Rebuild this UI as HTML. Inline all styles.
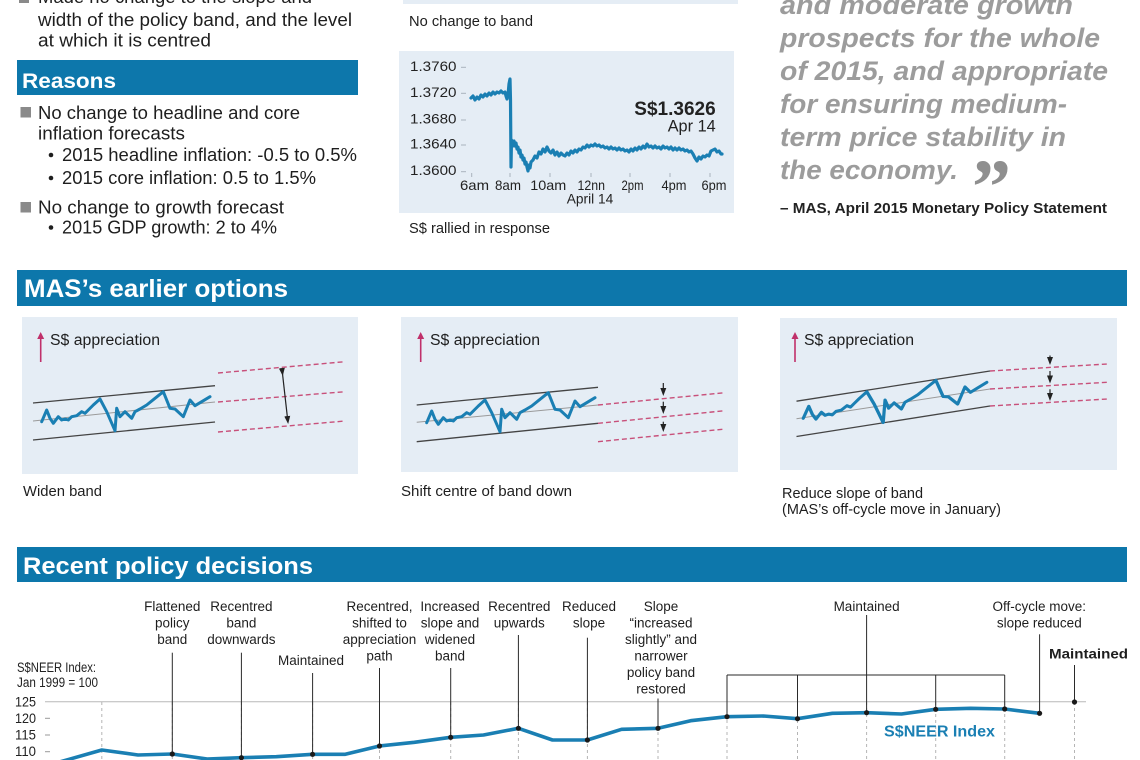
<!DOCTYPE html>
<html>
<head>
<meta charset="utf-8">
<style>
  html,body{margin:0;padding:0;background:#fff;}
  svg{display:block;}
  text{font-family:"Liberation Sans",Arial,sans-serif;}
  .t18{font-size:18px;fill:#1e1e1e;}
  .hd{font-weight:bold;fill:#fff;}
  .q{font-size:27px;font-weight:bold;font-style:italic;fill:#9c9c9c;}
  .s14{font-size:14.5px;fill:#1e1e1e;}
  .ax{font-size:13.5px;fill:#222;}
  .lb{font-size:13.5px;fill:#1e1e1e;text-anchor:middle;}
</style>
</head>
<body>
<svg width="1140" height="760" viewBox="0 0 1140 760" xmlns="http://www.w3.org/2000/svg">
  <rect x="0" y="0" width="1140" height="760" fill="#fff"/>

  <!-- ========== TOP LEFT ========== -->
  <rect x="19" y="-7" width="10" height="10" fill="#8a8a8a"/>
  <text class="t18" x="38" y="3" textLength="274" lengthAdjust="spacingAndGlyphs">Made no change to the slope and</text>
  <text class="t18" x="38" y="26" textLength="314" lengthAdjust="spacingAndGlyphs">width of the policy band, and the level</text>
  <text class="t18" x="38" y="46.5" textLength="173" lengthAdjust="spacingAndGlyphs">at which it is centred</text>

  <rect x="17" y="60" width="341" height="35" fill="#0d77ab"/>
  <text class="hd" x="22" y="88" font-size="21.5" textLength="94" lengthAdjust="spacingAndGlyphs">Reasons</text>

  <rect x="20.5" y="107" width="10.5" height="10.5" fill="#8a8a8a"/>
  <text class="t18" x="38" y="119" textLength="262" lengthAdjust="spacingAndGlyphs">No change to headline and core</text>
  <text class="t18" x="38" y="139.5" textLength="147" lengthAdjust="spacingAndGlyphs">inflation forecasts</text>
  <circle cx="51" cy="155" r="2.3" fill="#1e1e1e"/>
  <text class="t18" x="62" y="161" textLength="295" lengthAdjust="spacingAndGlyphs">2015 headline inflation: -0.5 to 0.5%</text>
  <circle cx="51" cy="178" r="2.3" fill="#1e1e1e"/>
  <text class="t18" x="62" y="184" textLength="254" lengthAdjust="spacingAndGlyphs">2015 core inflation: 0.5 to 1.5%</text>
  <rect x="20.5" y="202" width="10.5" height="10.5" fill="#8a8a8a"/>
  <text class="t18" x="38" y="213.5" textLength="246" lengthAdjust="spacingAndGlyphs">No change to growth forecast</text>
  <circle cx="51" cy="227.5" r="2.3" fill="#1e1e1e"/>
  <text class="t18" x="62" y="233.5" textLength="215" lengthAdjust="spacingAndGlyphs">2015 GDP growth: 2 to 4%</text>

  <!-- ========== TOP MIDDLE ========== -->
  <rect x="403" y="0" width="335" height="4" fill="#e5edf5"/>
  <text class="s14" x="409" y="26" font-size="15" textLength="124" lengthAdjust="spacingAndGlyphs">No change to band</text>

  <rect x="399" y="51" width="335" height="162" fill="#e5edf5"/>
  <g font-size="14" fill="#222">
    <text x="410" y="71" textLength="46.5" lengthAdjust="spacingAndGlyphs">1.3760</text>
    <text x="410" y="97" textLength="46.5" lengthAdjust="spacingAndGlyphs">1.3720</text>
    <text x="410" y="123.5" textLength="46.5" lengthAdjust="spacingAndGlyphs">1.3680</text>
    <text x="410" y="148.5" textLength="46.5" lengthAdjust="spacingAndGlyphs">1.3640</text>
    <text x="410" y="175" textLength="46.5" lengthAdjust="spacingAndGlyphs">1.3600</text>
  </g>
  <g stroke="#a9b3bd" stroke-width="1">
    <line x1="461" y1="67.3" x2="466" y2="67.3"/>
    <line x1="461" y1="93.3" x2="466" y2="93.3"/>
    <line x1="461" y1="120" x2="466" y2="120"/>
    <line x1="461" y1="145" x2="466" y2="145"/>
    <line x1="461" y1="171.7" x2="466" y2="171.7"/>
    <line x1="471.7" y1="173" x2="471.7" y2="177"/>
    <line x1="510" y1="173" x2="510" y2="177"/>
    <line x1="550" y1="173" x2="550" y2="177"/>
    <line x1="591" y1="173" x2="591" y2="177"/>
    <line x1="630" y1="173" x2="630" y2="177"/>
    <line x1="670" y1="173" x2="670" y2="177"/>
    <line x1="710" y1="173" x2="710" y2="177"/>
  </g>
  <g font-size="14" fill="#222" text-anchor="middle">
    <text x="474.5" y="190" textLength="29" lengthAdjust="spacingAndGlyphs">6am</text>
    <text x="508" y="190" textLength="26" lengthAdjust="spacingAndGlyphs">8am</text>
    <text x="548.3" y="190" textLength="36" lengthAdjust="spacingAndGlyphs">10am</text>
    <text x="591.3" y="190" textLength="27.5" lengthAdjust="spacingAndGlyphs">12nn</text>
    <text x="632.5" y="190" textLength="22" lengthAdjust="spacingAndGlyphs">2pm</text>
    <text x="674" y="190" textLength="25" lengthAdjust="spacingAndGlyphs">4pm</text>
    <text x="714" y="190" textLength="25" lengthAdjust="spacingAndGlyphs">6pm</text>
    <text x="590" y="203.5" textLength="46.5" lengthAdjust="spacingAndGlyphs">April 14</text>
  </g>
  <path fill="none" stroke="#1a7fb3" stroke-width="3.2" stroke-linejoin="round" stroke-linecap="round"
    d="M471,98 L473,96 475,100 477,97 479,99 481,95 483,97 485,94 487,96 489,93 491,95 493,92 495,94 497,92 499,93 501,91 503,93 505,92 506,96 507,99 508,95 509,84 510,79 510.5,100 511,167 511.5,140 513,146 514,141 515,146 516,143 517,149 518,147 519,153 520,150 521,157 522,155 523,160 524,158 525,164 526,162 527,167 528,171 529,165 530,168 531,162 533,160 535,156 537,158 539,152 541,154 543,149 545,152 547,147 549,151 551,153 553,150 555,155 557,152 559,156 561,153 563,155 565,156 567,153 569,155 571,151 573,153 575,150 577,152 579,149 581,150 583,147 585,148 587,145 589,147 591,145 593,146 595,144 597,146 599,145 601,147 603,146 605,148 607,147 609,149 611,147 613,149 615,148 617,150 619,148 621,150 623,149 625,151 627,150 629,152 631,149 633,151 635,148 637,150 639,147 641,149 643,146 645,148 647,144 649,147 651,146 653,148 655,146 657,148 659,147 661,149 663,146 665,148 667,147 669,149 671,147 673,150 675,148 677,150 679,148 681,150 683,149 685,151 687,150 689,152 691,151 693,154 695,158 697,161 699,157 701,159 703,156 705,157 707,155 709,156 711,151 713,150 715,149 717,152 719,151 721,154 722,154"/>
  <text x="634.3" y="115" font-size="19" font-weight="bold" fill="#222" textLength="81.4" lengthAdjust="spacingAndGlyphs">S$1.3626</text>
  <text x="715.7" y="131.7" font-size="17" fill="#222" text-anchor="end" textLength="48" lengthAdjust="spacingAndGlyphs">Apr 14</text>

  <text class="s14" x="409" y="233" font-size="15" textLength="141" lengthAdjust="spacingAndGlyphs">S$ rallied in response</text>

  <!-- ========== TOP RIGHT QUOTE ========== -->
  <text class="q" x="780" y="14" textLength="293" lengthAdjust="spacingAndGlyphs">and moderate growth</text>
  <text class="q" x="780" y="47" textLength="320" lengthAdjust="spacingAndGlyphs">prospects for the whole</text>
  <text class="q" x="780" y="80" textLength="328" lengthAdjust="spacingAndGlyphs">of 2015, and appropriate</text>
  <text class="q" x="780" y="113" textLength="287" lengthAdjust="spacingAndGlyphs">for ensuring medium-</text>
  <text class="q" x="780" y="146" textLength="286" lengthAdjust="spacingAndGlyphs">term price stability in</text>
  <text class="q" x="780" y="179" textLength="178" lengthAdjust="spacingAndGlyphs">the economy.</text>
  <text x="972" y="213" font-family="Liberation Serif, serif" font-size="78" font-weight="bold" fill="#8f8f8f" style="font-family:'Liberation Serif',serif">”</text>
  <text x="780" y="213" font-size="14.5" font-weight="bold" fill="#222" textLength="327" lengthAdjust="spacingAndGlyphs">– MAS, April 2015 Monetary Policy Statement</text>

  <!-- ========== MAS's earlier options ========== -->
  <rect x="17" y="270" width="1110" height="36" fill="#0d77ab"/>
  <text class="hd" x="24" y="297" font-size="25" textLength="264" lengthAdjust="spacingAndGlyphs">MAS’s earlier options</text>

  <defs>
    <path id="mini" fill="none" stroke="#1a7fb3" stroke-width="3" stroke-linejoin="round" stroke-linecap="round"
      d="M41.7,421.7 L46.7,410 50,418.3 53.3,423.3 58.3,416.7 61.7,420 65,419 68.3,420 71.7,416.7 76.7,415.7 81.7,411.7 85,413.3 88.3,410 93.3,405 100,399 106.7,411.7 115,430.7 116.7,408.3 120,416.7 125,411.7 131.7,418.3 135,411.7 140,409 146.7,405 155,398.3 163.3,391.7 170,408.3 175,409 183.3,416.7 190,400 195,405.7 201.7,401.7 210,396.7"/>
    <marker id="ah" markerWidth="8" markerHeight="8" refX="4" refY="4" orient="auto" markerUnits="userSpaceOnUse">
      <path d="M0,1 L8,4 L0,7 z" fill="#222"/>
    </marker>
  </defs>

  <!-- Panel 1 -->
  <rect x="22" y="317" width="336" height="157" fill="#e5edf5"/>
  <line x1="40.7" y1="362" x2="40.7" y2="338" stroke="#c0306a" stroke-width="1.6"/>
  <path d="M37.2,339 L40.7,332 L44.2,339 z" fill="#c0306a"/>
  <text x="50" y="345" font-size="15.5" fill="#1e1e1e" textLength="110" lengthAdjust="spacingAndGlyphs">S$ appreciation</text>
  <g stroke-width="1.3">
    <line x1="33" y1="403" x2="215" y2="385.7" stroke="#444"/>
    <line x1="33" y1="421" x2="215" y2="402" stroke="#9a9a9a" stroke-width="1"/>
    <line x1="33" y1="440" x2="215" y2="422" stroke="#444"/>
  </g>
  <use href="#mini"/>
  <g stroke="#c8507a" stroke-width="1.4" stroke-dasharray="5,3">
    <line x1="218" y1="373" x2="345" y2="361.7"/>
    <line x1="218" y1="402" x2="345" y2="391.7"/>
    <line x1="218" y1="432" x2="345" y2="421"/>
  </g>
  <line x1="282.3" y1="372" x2="287.7" y2="420" stroke="#222" stroke-width="1.2" marker-start="url(#ah)" marker-end="url(#ah)"/>
  <text class="s14" x="23" y="496" textLength="79" lengthAdjust="spacingAndGlyphs">Widen band</text>

  <!-- Panel 2 -->
  <rect x="401" y="317" width="337" height="155" fill="#e5edf5"/>
  <line x1="420.7" y1="362" x2="420.7" y2="338" stroke="#c0306a" stroke-width="1.6"/>
  <path d="M417.2,339 L420.7,332 L424.2,339 z" fill="#c0306a"/>
  <text x="430" y="345" font-size="15.5" fill="#1e1e1e" textLength="110" lengthAdjust="spacingAndGlyphs">S$ appreciation</text>
  <g stroke-width="1.3">
    <line x1="416.7" y1="405" x2="598" y2="387.3" stroke="#444"/>
    <line x1="416.7" y1="422.3" x2="598" y2="405" stroke="#9a9a9a" stroke-width="1"/>
    <line x1="416.7" y1="441.7" x2="598" y2="423.3" stroke="#444"/>
  </g>
  <use href="#mini" transform="translate(385,1)"/>
  <g stroke="#c8507a" stroke-width="1.4" stroke-dasharray="5,3">
    <line x1="598" y1="405" x2="725" y2="392.7"/>
    <line x1="598" y1="423.3" x2="725" y2="410.7"/>
    <line x1="598" y1="441.7" x2="725" y2="429"/>
  </g>
  <g stroke="#222" stroke-width="1.2">
    <line x1="663.3" y1="383" x2="663.3" y2="392" marker-end="url(#ah)"/>
    <line x1="663.3" y1="401.7" x2="663.3" y2="410" marker-end="url(#ah)"/>
    <line x1="663.3" y1="421.7" x2="663.3" y2="428" marker-end="url(#ah)"/>
  </g>
  <text class="s14" x="401" y="496" textLength="171" lengthAdjust="spacingAndGlyphs">Shift centre of band down</text>

  <!-- Panel 3 -->
  <rect x="780" y="318" width="337" height="152" fill="#e5edf5"/>
  <line x1="795" y1="362" x2="795" y2="338" stroke="#c0306a" stroke-width="1.6"/>
  <path d="M791.5,339 L795,332 L798.5,339 z" fill="#c0306a"/>
  <text x="804" y="345" font-size="15.5" fill="#1e1e1e" textLength="110" lengthAdjust="spacingAndGlyphs">S$ appreciation</text>
  <g stroke-width="1.3">
    <line x1="796.5" y1="401.2" x2="990" y2="371" stroke="#444"/>
    <line x1="796.5" y1="418.8" x2="990" y2="389" stroke="#9a9a9a" stroke-width="1"/>
    <line x1="796.5" y1="436.5" x2="990" y2="406" stroke="#444"/>
  </g>
  <use href="#mini" transform="matrix(1.09,-0.065,0,1,757.85,-0.69)"/>
  <g stroke="#c8507a" stroke-width="1.4" stroke-dasharray="5,3">
    <line x1="990" y1="371" x2="1107" y2="364"/>
    <line x1="990" y1="389" x2="1107" y2="382.3"/>
    <line x1="990" y1="406" x2="1107" y2="399"/>
  </g>
  <g stroke="#222" stroke-width="1.2">
    <line x1="1050" y1="355.5" x2="1050" y2="361" marker-end="url(#ah)"/>
    <line x1="1050" y1="371" x2="1050" y2="379.5" marker-end="url(#ah)"/>
    <line x1="1050" y1="389.3" x2="1050" y2="397" marker-end="url(#ah)"/>
  </g>
  <text class="s14" x="782" y="498" textLength="141" lengthAdjust="spacingAndGlyphs">Reduce slope of band</text>
  <text class="s14" x="782" y="514" textLength="219" lengthAdjust="spacingAndGlyphs">(MAS’s off-cycle move in January)</text>

  <!-- ========== Recent policy decisions ========== -->
  <rect x="17" y="547" width="1110" height="35" fill="#0d77ab"/>
  <text class="hd" x="23" y="574" font-size="24" textLength="290" lengthAdjust="spacingAndGlyphs">Recent policy decisions</text>

  <text class="ax" x="17" y="672" font-size="13" textLength="79" lengthAdjust="spacingAndGlyphs">S$NEER Index:</text>
  <text class="ax" x="17" y="687" font-size="13" textLength="81" lengthAdjust="spacingAndGlyphs">Jan 1999 = 100</text>
  <g font-size="14" fill="#222">
    <text x="15" y="706.5" textLength="21" lengthAdjust="spacingAndGlyphs">125</text>
    <text x="15" y="723" textLength="21" lengthAdjust="spacingAndGlyphs">120</text>
    <text x="15" y="739.5" textLength="21" lengthAdjust="spacingAndGlyphs">115</text>
    <text x="15" y="756" textLength="21" lengthAdjust="spacingAndGlyphs">110</text>
  </g>
  <line x1="45" y1="701.7" x2="1086" y2="701.7" stroke="#b8b8b8" stroke-width="1"/>
  <g stroke="#999" stroke-width="1">
    <line x1="45" y1="718.3" x2="50" y2="718.3"/>
    <line x1="45" y1="735" x2="50" y2="735"/>
    <line x1="45" y1="751.7" x2="50" y2="751.7"/>
  </g>

  <g stroke="#b5b5b5" stroke-width="1" stroke-dasharray="3,3">
    <line x1="101.8" y1="702" x2="101.8" y2="760"/>
    <line x1="172.3" y1="702" x2="172.3" y2="760"/>
    <line x1="241.4" y1="702" x2="241.4" y2="760"/>
    <line x1="312.6" y1="702" x2="312.6" y2="760"/>
    <line x1="379.5" y1="702" x2="379.5" y2="760"/>
    <line x1="450.7" y1="702" x2="450.7" y2="760"/>
    <line x1="518.4" y1="702" x2="518.4" y2="760"/>
    <line x1="587.4" y1="702" x2="587.4" y2="760"/>
    <line x1="658" y1="702" x2="658" y2="760"/>
    <line x1="727" y1="702" x2="727" y2="760"/>
    <line x1="797.5" y1="702" x2="797.5" y2="760"/>
    <line x1="866.6" y1="702" x2="866.6" y2="760"/>
    <line x1="935.7" y1="702" x2="935.7" y2="760"/>
    <line x1="1004.7" y1="702" x2="1004.7" y2="760"/>
    <line x1="1074.5" y1="702" x2="1074.5" y2="760"/>
  </g>

  <g stroke="#2a2a2a" stroke-width="1">
    <line x1="172.3" y1="652.7" x2="172.3" y2="754"/>
    <line x1="241.4" y1="652.7" x2="241.4" y2="757.7"/>
    <line x1="312.6" y1="673" x2="312.6" y2="754.3"/>
    <line x1="379.5" y1="668" x2="379.5" y2="746"/>
    <line x1="450.7" y1="668" x2="450.7" y2="737.3"/>
    <line x1="518.4" y1="635" x2="518.4" y2="728.3"/>
    <line x1="587.4" y1="637.7" x2="587.4" y2="740"/>
    <line x1="658" y1="698.5" x2="658" y2="728.3"/>
    <line x1="727" y1="675" x2="1004.7" y2="675"/>
    <line x1="727" y1="675" x2="727" y2="716.7"/>
    <line x1="797.5" y1="675" x2="797.5" y2="718.7"/>
    <line x1="866.6" y1="615" x2="866.6" y2="712.7"/>
    <line x1="935.7" y1="675" x2="935.7" y2="709.3"/>
    <line x1="1004.7" y1="675" x2="1004.7" y2="709"/>
    <line x1="1039.6" y1="634.3" x2="1039.6" y2="713.3"/>
    <line x1="1074.5" y1="665" x2="1074.5" y2="702"/>
  </g>

  <path fill="none" stroke="#1a7fb3" stroke-width="3.6" stroke-linejoin="round"
    d="M56,763 L69,759.3 101.8,750 138,755 172.3,754 207.2,759 241.4,757.7 276.3,756.7 312.6,754.3 345.3,754.3 379.5,746 414.4,742.3 450.7,737.3 483.5,735 518.4,728.3 552.5,740 587.4,740 621.6,729.3 658,728.3 690.7,720.7 727,716.7 763.4,716 797.5,718.7 832.4,713.3 866.6,712.7 901.5,714 935.7,709.3 970.6,708.3 1004.7,709 1039.6,713.3"/>

  <g fill="#1a1a1a">
    <circle cx="172.3" cy="754" r="2.6"/>
    <circle cx="241.4" cy="757.7" r="2.6"/>
    <circle cx="312.6" cy="754.3" r="2.6"/>
    <circle cx="379.5" cy="746" r="2.6"/>
    <circle cx="450.7" cy="737.3" r="2.6"/>
    <circle cx="518.4" cy="728.3" r="2.6"/>
    <circle cx="587.4" cy="740" r="2.6"/>
    <circle cx="658" cy="728.3" r="2.6"/>
    <circle cx="727" cy="716.7" r="2.6"/>
    <circle cx="797.5" cy="718.7" r="2.6"/>
    <circle cx="866.6" cy="712.7" r="2.6"/>
    <circle cx="935.7" cy="709.3" r="2.6"/>
    <circle cx="1004.7" cy="709" r="2.6"/>
    <circle cx="1039.6" cy="713.3" r="2.6"/>
    <circle cx="1074.5" cy="702" r="2.6"/>
  </g>

  <text x="884" y="736.7" font-size="15.5" font-weight="bold" fill="#1a7fb3" textLength="111" lengthAdjust="spacingAndGlyphs">S$NEER Index</text>

  <g class="lb">
    <text class="lb" x="172.3" y="611">Flattened</text>
    <text class="lb" x="172.3" y="627.5">policy</text>
    <text class="lb" x="172.3" y="644">band</text>

    <text class="lb" x="241.4" y="611">Recentred</text>
    <text class="lb" x="241.4" y="627.5">band</text>
    <text class="lb" x="241.4" y="644">downwards</text>

    <text class="lb" x="311" y="665">Maintained</text>

    <text class="lb" x="379.5" y="611">Recentred,</text>
    <text class="lb" x="379.5" y="627.5">shifted to</text>
    <text class="lb" x="379.5" y="644">appreciation</text>
    <text class="lb" x="379.5" y="660.5">path</text>

    <text class="lb" x="450" y="611">Increased</text>
    <text class="lb" x="450" y="627.5">slope and</text>
    <text class="lb" x="450" y="644">widened</text>
    <text class="lb" x="450" y="660.5">band</text>

    <text class="lb" x="519.3" y="611">Recentred</text>
    <text class="lb" x="519.3" y="627.5">upwards</text>

    <text class="lb" x="589" y="611">Reduced</text>
    <text class="lb" x="589" y="627.5">slope</text>

    <text class="lb" x="661" y="611">Slope</text>
    <text class="lb" x="661" y="627.5">“increased</text>
    <text class="lb" x="661" y="644">slightly” and</text>
    <text class="lb" x="661" y="660.5">narrower</text>
    <text class="lb" x="661" y="677">policy band</text>
    <text class="lb" x="661" y="693.5">restored</text>

    <text class="lb" x="866.6" y="611">Maintained</text>

    <text class="lb" x="1039.3" y="611">Off-cycle move:</text>
    <text class="lb" x="1039.3" y="627.5">slope reduced</text>
  </g>
  <text x="1088.5" y="658.5" font-size="14" font-weight="bold" fill="#1e1e1e" text-anchor="middle" textLength="79" lengthAdjust="spacingAndGlyphs">Maintained</text>
</svg>
</body>
</html>
